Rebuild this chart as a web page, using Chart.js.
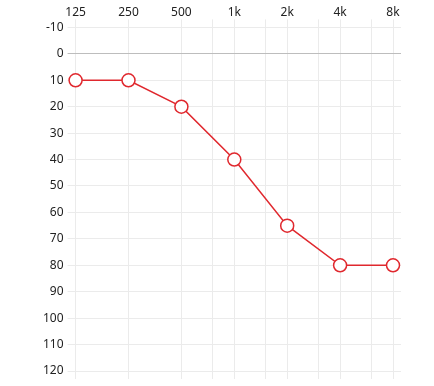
<!DOCTYPE html>
<html>
<head>
<meta charset="utf-8">
<script src="https://cdn.jsdelivr.net/npm/chart.js@4"></script>
<style>
  html, body { margin: 0; padding: 0; background: #fff; }
  #wrap { width: 434px; height: 386px; }
</style>
</head>
<body>
<div id="wrap"><canvas id="audio"></canvas></div>
<script>
/* ── Data ── */
const FREQS      = [125, 250, 500, 1000, 2000, 4000, 8000];
const THRESHOLDS = [10, 10, 20, 40, 65, 80, 80];
const GRID_FREQS = [125, 250, 500, 750, 1000, 1500, 2000, 3000, 4000, 6000, 8000];
const FREQ_LABELS = { 125: '125', 250: '250', 500: '500', 1000: '1k', 2000: '2k', 4000: '4k', 8000: '8k' };
const DB_TICKS   = [-10, 0, 10, 20, 30, 40, 50, 60, 70, 80, 90, 100, 110, 120];

const RED = '#e0282e';
const GRID = '#ebebeb';
const ZERO = '#bdbdbd';
const FONT = { family: "'Noto Sans', 'Open Sans', sans-serif", size: 12 };

const freqTicks = scale => { scale.ticks = GRID_FREQS.map(v => ({ value: v })); };
const dbTicks   = scale => { scale.ticks = DB_TICKS.map(v => ({ value: v })); };
const dbGrid    = c => c.tick && c.tick.value === 0 ? ZERO : GRID;

new Chart(document.getElementById('audio'), {
  type: 'line',
  data: {
    datasets: [{
      data: FREQS.map((f, i) => ({ x: f, y: THRESHOLDS[i] })),
      borderColor: RED,
      borderWidth: 1.5,
      pointRadius: 6.5,
      pointHoverRadius: 6.5,
      pointBorderWidth: 1.5,
      pointBackgroundColor: '#fff',
      pointBorderColor: RED,
      tension: 0,
      clip: false
    }]
  },
  options: {
    responsive: true,
    maintainAspectRatio: false,
    animation: false,
    layout: { padding: { left: 39, right: 33, top: 5, bottom: 7 } },
    plugins: { legend: { display: false }, tooltip: { enabled: false } },
    scales: {
      x: {
        type: 'logarithmic',
        position: 'top',
        min: 125, max: 8000,
        afterBuildTicks: freqTicks,
        border: { display: false },
        grid: { color: GRID, tickLength: 8 },
        ticks: {
          autoSkip: false, maxRotation: 0, padding: 0,
          color: '#222', font: FONT,
          callback: v => FREQ_LABELS[v] || ''
        }
      },
      x2: {
        type: 'logarithmic',
        position: 'bottom',
        min: 125, max: 8000,
        afterBuildTicks: freqTicks,
        border: { display: false },
        grid: { color: GRID, tickLength: 8, drawOnChartArea: false },
        ticks: { display: false }
      },
      y: {
        reverse: true,
        min: -10, max: 120,
        afterBuildTicks: dbTicks,
        border: { display: false },
        grid: { color: dbGrid, tickLength: 8 },
        ticks: { padding: 4, color: '#222', font: FONT }
      },
      y2: {
        reverse: true,
        position: 'right',
        min: -10, max: 120,
        afterBuildTicks: dbTicks,
        border: { display: false },
        grid: { color: dbGrid, tickLength: 8, drawOnChartArea: false },
        ticks: { display: false }
      }
    }
  }
});
</script>
</body>
</html>
